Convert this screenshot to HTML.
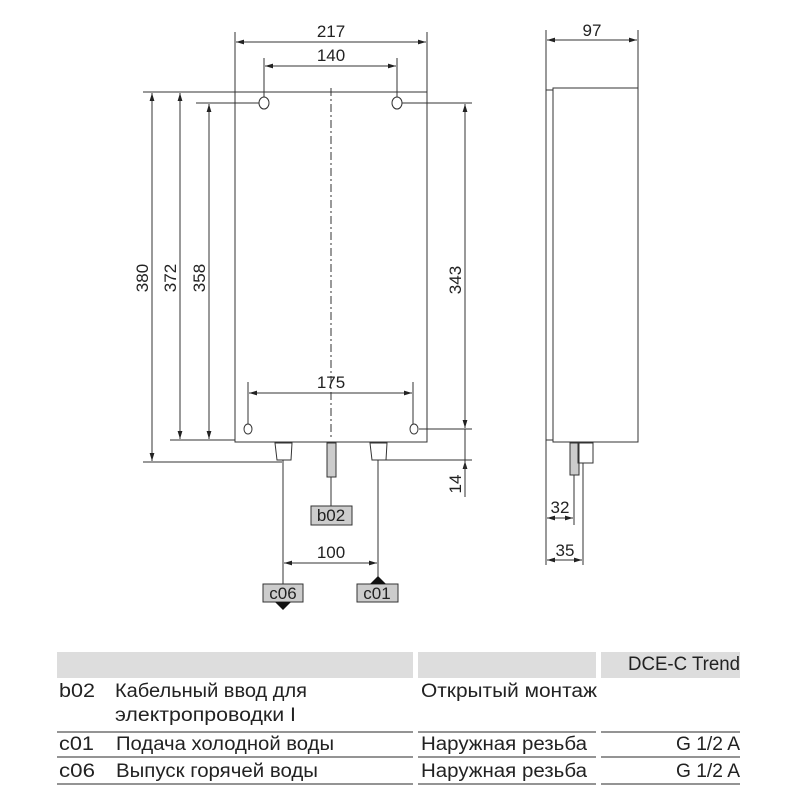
<!DOCTYPE html>
<html><head><meta charset="utf-8"><style>
body{margin:0;background:#fff;}
svg text{font-family:"Liberation Sans",sans-serif;}
.t{font-family:"Liberation Sans Narrow","Liberation Sans","Noto Sans CJK SC",sans-serif;font-size:19px;fill:#222;}
</style></head><body>
<svg width="800" height="800" xmlns="http://www.w3.org/2000/svg">
<defs>
<marker id="a" viewBox="0 0 10 10" refX="10" refY="5" markerWidth="8" markerHeight="8" orient="auto-start-reverse"><path d="M0,2 L10,5 L0,8z" fill="#222"/></marker>
</defs>
<g stroke="#333" stroke-width="1" fill="none">
<rect x="235" y="92" width="192" height="350" fill="#fff"/>
<line x1="331" y1="88" x2="331" y2="440" stroke-dasharray="8,3,2,3"/>
<ellipse cx="264" cy="103" rx="5" ry="6"/><ellipse cx="397" cy="103" rx="5" ry="6"/>
<ellipse cx="248" cy="429" rx="4" ry="5"/><ellipse cx="414" cy="429" rx="4" ry="5"/>
<line x1="235" y1="32" x2="235" y2="92"/><line x1="427" y1="32" x2="427" y2="92"/>
<line x1="236" y1="42" x2="426" y2="42" marker-start="url(#a)" marker-end="url(#a)"/>
<line x1="264" y1="58" x2="264" y2="97"/><line x1="397" y1="58" x2="397" y2="97"/>
<line x1="265" y1="66" x2="396" y2="66" marker-start="url(#a)" marker-end="url(#a)"/>
<line x1="143" y1="92" x2="235" y2="92"/>
<line x1="196" y1="103" x2="259" y2="103"/>
<line x1="143" y1="462" x2="282" y2="462"/>
<line x1="170" y1="440" x2="235" y2="440"/>
<line x1="152" y1="93" x2="152" y2="461" marker-start="url(#a)" marker-end="url(#a)"/>
<line x1="180" y1="93" x2="180" y2="439" marker-start="url(#a)" marker-end="url(#a)"/>
<line x1="209" y1="104" x2="209" y2="439" marker-start="url(#a)" marker-end="url(#a)"/>
<line x1="402" y1="103" x2="472" y2="103"/>
<line x1="419" y1="429" x2="472" y2="429"/>
<line x1="386" y1="460" x2="472" y2="460"/>
<line x1="465" y1="104" x2="465" y2="428" marker-start="url(#a)" marker-end="url(#a)"/>
<line x1="465" y1="490" x2="465" y2="461" marker-end="url(#a)"/>
<line x1="465" y1="429" x2="465" y2="497"/>
<line x1="248" y1="382" x2="248" y2="424"/><line x1="413" y1="382" x2="413" y2="424"/>
<line x1="249" y1="393" x2="412" y2="393" marker-start="url(#a)" marker-end="url(#a)"/>
<path d="M275,443 L292,443 L291,460 L277,460Z"/>
<path d="M370,443 L387,443 L386,460 L372,460Z"/>
<rect x="327" y="443" width="9" height="34" fill="#ccc"/>
<line x1="283" y1="460" x2="283" y2="592"/>
<line x1="378" y1="460" x2="378" y2="584"/>
<line x1="331" y1="477" x2="331" y2="506"/>
<line x1="284" y1="563" x2="377" y2="563" marker-start="url(#a)" marker-end="url(#a)"/>
<rect x="546" y="90" width="7" height="350"/>
<rect x="553" y="88" width="85" height="354" fill="#fff"/>
<line x1="546" y1="30" x2="546" y2="90"/><line x1="638" y1="30" x2="638" y2="88"/>
<line x1="547" y1="40" x2="637" y2="40" marker-start="url(#a)" marker-end="url(#a)"/>
<rect x="570" y="443" width="9" height="32" fill="#ccc"/>
<rect x="578" y="443" width="15" height="20"/>
<line x1="546" y1="440" x2="546" y2="565"/>
<line x1="574" y1="475" x2="574" y2="525"/>
<line x1="583" y1="463" x2="583" y2="565"/>
<line x1="547" y1="518" x2="573" y2="518" marker-start="url(#a)" marker-end="url(#a)"/>
<line x1="547" y1="560" x2="582" y2="560" marker-start="url(#a)" marker-end="url(#a)"/>
</g>
<g fill="#222" font-size="17" text-anchor="middle">
<text x="331" y="37">217</text><text x="331" y="61">140</text><text x="331" y="388">175</text>
<text x="331" y="558">100</text><text x="592" y="36">97</text>
<text x="560" y="513">32</text><text x="565" y="556">35</text>
<text transform="translate(148,278) rotate(-90)">380</text>
<text transform="translate(176,278) rotate(-90)">372</text>
<text transform="translate(205,278) rotate(-90)">358</text>
<text transform="translate(461,280) rotate(-90)">343</text>
<text transform="translate(461,484) rotate(-90)">14</text>
</g>
<g stroke="#333" fill="#ccc">
<rect x="311" y="506" width="41" height="19"/>
<rect x="263" y="584" width="40" height="18"/>
<rect x="357" y="584" width="41" height="18"/>
</g>
<path d="M275,602 L291,602 L283,610Z" fill="#111"/>
<path d="M370,584 L386,584 L378,576Z" fill="#111"/>
<g fill="#222" font-size="17" text-anchor="middle">
<text x="331" y="521">b02</text><text x="283" y="599">c06</text><text x="377" y="599">c01</text>
</g>
<rect x="57" y="652" width="356" height="26" fill="#ddd"/>
<rect x="418" y="652" width="178" height="26" fill="#ddd"/>
<rect x="601" y="652" width="139" height="26" fill="#ddd"/>
<g stroke="#555" stroke-width="1.2">
<line x1="57" y1="732" x2="413" y2="732"/><line x1="418" y1="732" x2="596" y2="732"/><line x1="601" y1="732" x2="740" y2="732"/>
<line x1="57" y1="757" x2="413" y2="757"/><line x1="418" y1="757" x2="596" y2="757"/><line x1="601" y1="757" x2="740" y2="757"/>
<line x1="57" y1="784" x2="413" y2="784"/><line x1="418" y1="784" x2="596" y2="784"/><line x1="601" y1="784" x2="740" y2="784"/>
</g>
<text class="t" x="628" y="670" textLength="112" lengthAdjust="spacingAndGlyphs">DCE-C Trend</text>
<text class="t" x="59" y="697" textLength="36" lengthAdjust="spacingAndGlyphs">b02</text>
<text class="t" x="115" y="697" textLength="192" lengthAdjust="spacingAndGlyphs">Кабельный ввод для</text>
<text class="t" x="115" y="721" textLength="181" lengthAdjust="spacingAndGlyphs">электропроводки I</text>
<text class="t" x="421" y="697" textLength="176" lengthAdjust="spacingAndGlyphs">Открытый монтаж</text>
<text class="t" x="59" y="750" textLength="35" lengthAdjust="spacingAndGlyphs">c01</text>
<text class="t" x="116" y="750" textLength="218" lengthAdjust="spacingAndGlyphs">Подача холодной воды</text>
<text class="t" x="421" y="750" textLength="166" lengthAdjust="spacingAndGlyphs">Наружная резьба</text>
<text class="t" x="676" y="750" textLength="64" lengthAdjust="spacingAndGlyphs">G 1/2 A</text>
<text class="t" x="59" y="777" textLength="36" lengthAdjust="spacingAndGlyphs">c06</text>
<text class="t" x="116" y="777" textLength="202" lengthAdjust="spacingAndGlyphs">Выпуск горячей воды</text>
<text class="t" x="421" y="777" textLength="166" lengthAdjust="spacingAndGlyphs">Наружная резьба</text>
<text class="t" x="676" y="777" textLength="64" lengthAdjust="spacingAndGlyphs">G 1/2 A</text>
</svg>
</body></html>
